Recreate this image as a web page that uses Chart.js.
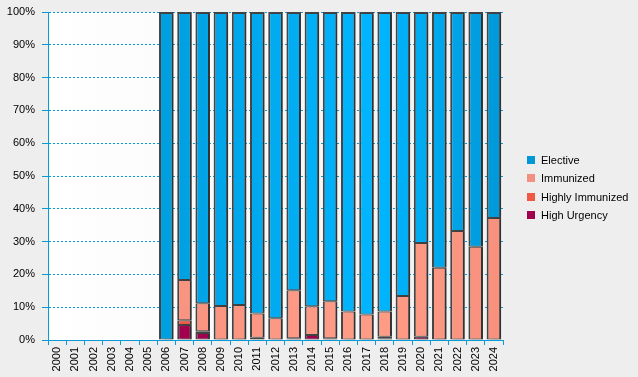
<!DOCTYPE html>
<html>
<head>
<meta charset="utf-8">
<script src="https://cdn.jsdelivr.net/npm/chart.js@4/dist/chart.umd.min.js"></script>
<style>
  html, body { margin:0; padding:0; background:#eeeeee; }
  #wrap { position:relative; width:638px; height:377px; background:#eeeeee; }
  canvas { position:absolute; left:0; top:0; }
  #legend { position:absolute; left:527px; top:153px; font-family:"Liberation Sans", Arial, sans-serif; font-size:11px; color:#000; }
  .li { height:18.4px; line-height:14px; position:relative; padding-left:14px; white-space:nowrap; }
  .sw { position:absolute; left:0; top:3px; width:8px; height:8px; }
</style>
</head>
<body>
<div id="wrap">
  <canvas id="c" width="638" height="377"></canvas>
  <div id="legend"></div>
</div>
<script>
const years = ['2000','2001','2002','2003','2004','2005','2006','2007','2008','2009','2010','2011','2012','2013','2014','2015','2016','2017','2018','2019','2020','2021','2022','2023','2024'];
const highUrgency      = [null,null,null,null,null,null,0,4.6,2.1,0,0,0.3,0,0.5,1.5,0.5,0,0,0.5,0,1.0,0,0,0,0];
const highlyImmunized  = [null,null,null,null,null,null,0,1.4,0.6,0,0,0.4,0,0,0,0,0,0,0.5,0,0,0,0,0,0];
const immunized        = [null,null,null,null,null,null,0,12.3,8.5,10.4,10.7,7.4,6.6,14.7,8.8,11.3,8.7,7.8,7.7,13.4,28.6,22.0,33.2,28.4,37.2];
const elective         = [null,null,null,null,null,null,100,81.7,88.8,89.6,89.3,91.9,93.4,84.8,89.7,88.2,91.3,92.2,91.3,86.6,70.4,78.0,66.8,71.6,62.8];
const yTicks = [0,10,20,30,40,50,60,70,80,90,100];
const seriesNames = ['High Urgency','Highly Immunized','Immunized','Elective'];
const seriesColors = ['#a0004d','#f05a44','#f4907f','#0097d9'];

const AXIS = '#0a9ad8';

function hGrad(ctx, area, stops) {
  const g = ctx.createLinearGradient(area.left, 0, area.right, 0);
  stops.forEach(s => g.addColorStop(s[0], s[1]));
  return g;
}
function electiveFill(c) {
  const {ctx, chartArea} = c.chart;
  if (!chartArea) return '#0097d9';
  return hGrad(ctx, chartArea, [[0,'#0096d6'],[0.25,'#009fe0'],[0.72,'#00b6ff'],[1,'#0098d8']]);
}
function immunizedFill(c) {
  const {ctx, chartArea} = c.chart;
  if (!chartArea) return '#f4907f';
  return hGrad(ctx, chartArea, [[0,'#f48e7c'],[0.72,'#ff9c86'],[1,'#f7907d']]);
}
const noZero = arr => arr.map(v => (v === 0 ? null : v));

const innerBorder = {top: 1, bottom: 1, left: 2, right: 2};
const topBorder = {top: 2, bottom: 1, left: 2, right: 2};

const datasets = [
  {label: seriesNames[0], data: noZero(highUrgency), backgroundColor: seriesColors[0], borderWidth: innerBorder},
  {label: seriesNames[1], data: noZero(highlyImmunized), backgroundColor: seriesColors[1], borderWidth: innerBorder},
  {label: seriesNames[2], data: noZero(immunized), backgroundColor: immunizedFill, borderWidth: innerBorder},
  {label: seriesNames[3], data: noZero(elective), backgroundColor: electiveFill, borderWidth: topBorder}
].map(d => Object.assign(d, {
  borderColor: '#454545', borderSkipped: false,
  categoryPercentage: 1.0, barPercentage: 0.8
}));

const bgPlugin = {
  id: 'bg',
  beforeDraw(chart) {
    const {ctx, chartArea: a} = chart;
    ctx.save();
    const g = ctx.createLinearGradient(a.left, 0, a.right, 0);
    g.addColorStop(0, '#ffffff');
    g.addColorStop(1, '#f1f1f1');
    ctx.fillStyle = g;
    ctx.fillRect(a.left, a.top, a.right - a.left, a.bottom - a.top);
    ctx.restore();
  },
  beforeDatasetsDraw(chart) {
    const ctx = chart.ctx;
    ctx.save();
    ctx.shadowColor = 'rgba(0,0,0,0.28)';
    ctx.shadowOffsetX = 3;
    ctx.shadowOffsetY = 0;
    ctx.shadowBlur = 2;
  },
  afterDatasetsDraw(chart) {
    chart.ctx.restore();
  }
};

new Chart(document.getElementById('c'), {
  type: 'bar',
  data: {labels: years, datasets},
  plugins: [bgPlugin],
  options: {
    responsive: false,
    animation: false,
    devicePixelRatio: 1,
    layout: {padding: {top: 12, right: 135, left: 0, bottom: 0}},
    plugins: {legend: {display: false}, tooltip: {enabled: false}},
    scales: {
      x: {
        stacked: true,
        offset: true,
        grid: {display: true, drawOnChartArea: false, drawTicks: true, tickLength: 5, tickColor: AXIS, offset: true},
        border: {display: true, color: AXIS, width: 1},
        ticks: {color: '#000', font: {family: '"Liberation Sans", Arial, sans-serif', size: 11}, minRotation: 90, maxRotation: 90, autoSkip: false, padding: 2},
        afterFit(s) { s.height = 37; }
      },
      y: {
        stacked: true,
        min: 0, max: 100,
        afterBuildTicks(s) { s.ticks = yTicks.map(v => ({value: v})); },
        grid: {display: true, color: AXIS, lineWidth: 1, drawTicks: true, tickLength: 6, tickColor: AXIS},
        border: {display: true, color: AXIS, width: 1, dash: [2,2]},
        ticks: {color: '#000', font: {family: '"Liberation Sans", Arial, sans-serif', size: 11}, padding: 7, callback: v => v + '%'},
        afterFit(s) { s.width = 48; s.paddingTop = 6; s.paddingBottom = 6; }
      }
    }
  }
});

const leg = document.getElementById('legend');
for (let i = seriesNames.length - 1; i >= 0; i--) {
  const row = document.createElement('div');
  row.className = 'li';
  row.innerHTML = '<span class="sw" style="background:' + seriesColors[i] + '"></span>' + seriesNames[i];
  leg.appendChild(row);
}
</script>
</body>
</html>
